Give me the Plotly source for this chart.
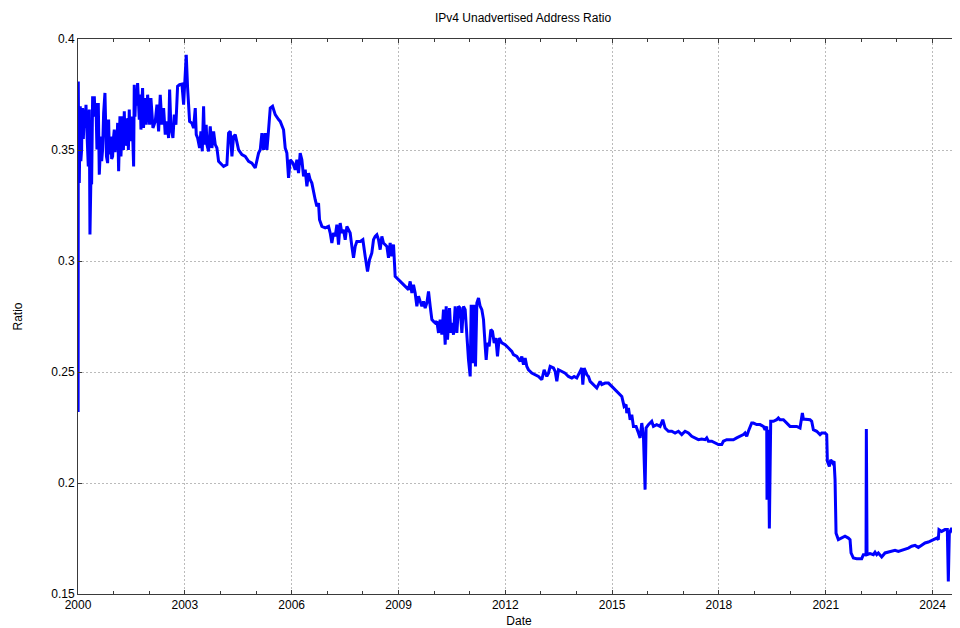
import plotly.graph_objects as go

# Decimal-year positions and ratio values
years = [
    2000.000, 2000.004, 2000.008, 2000.020, 2000.036, 2000.050, 2000.064, 2000.080, 2000.102, 2000.115,
    2000.130, 2000.150, 2000.177, 2000.200, 2000.224, 2000.252, 2000.289, 2000.305, 2000.317, 2000.336,
    2000.360, 2000.383, 2000.411, 2000.435, 2000.458, 2000.480, 2000.504, 2000.532, 2000.550, 2000.570,
    2000.598, 2000.620, 2000.645, 2000.665, 2000.691, 2000.720, 2000.757, 2000.785, 2000.800, 2000.832,
    2000.860, 2000.880, 2000.897, 2000.925, 2000.945, 2000.972, 2001.000, 2001.019, 2001.040, 2001.066,
    2001.090, 2001.113, 2001.141, 2001.160, 2001.178, 2001.206, 2001.230, 2001.253, 2001.275, 2001.300,
    2001.325, 2001.346, 2001.370, 2001.393, 2001.415, 2001.440, 2001.460, 2001.487, 2001.510, 2001.534,
    2001.562, 2001.580, 2001.600, 2001.627, 2001.650, 2001.674, 2001.700, 2001.721, 2001.745, 2001.768,
    2001.790, 2001.814, 2001.840, 2001.889, 2001.917, 2001.955, 2002.011, 2002.048, 2002.105, 2002.170,
    2002.217, 2002.264, 2002.310, 2002.357, 2002.404, 2002.451, 2002.498, 2002.544, 2002.573, 2002.610,
    2002.666, 2002.704, 2002.750, 2002.797, 2002.853, 2002.919, 2002.966, 2002.994, 2003.040, 2003.078,
    2003.106, 2003.134, 2003.199, 2003.246, 2003.293, 2003.321, 2003.359, 2003.415, 2003.452, 2003.490,
    2003.527, 2003.555, 2003.600, 2003.621, 2003.667, 2003.714, 2003.761, 2003.808, 2003.855, 2003.901,
    2003.948, 2003.995,
    2004.089, 2004.182, 2004.229, 2004.276, 2004.323, 2004.369, 2004.416, 2004.510, 2004.603, 2004.697,
    2004.791, 2004.884, 2004.978, 2005.071, 2005.118, 2005.165, 2005.212, 2005.258, 2005.305, 2005.352,
    2005.399, 2005.464, 2005.539, 2005.633,
    2005.679, 2005.773, 2005.819, 2005.866, 2005.913, 2005.960, 2006.035, 2006.100, 2006.147, 2006.194,
    2006.240, 2006.287, 2006.334, 2006.381, 2006.428, 2006.474, 2006.521, 2006.568, 2006.615, 2006.662,
    2006.708, 2006.755, 2006.783, 2006.849, 2006.942, 2007.036, 2007.083, 2007.129, 2007.176, 2007.223,
    2007.270, 2007.317, 2007.363, 2007.410, 2007.457, 2007.504, 2007.551, 2007.644, 2007.691, 2007.738,
    2007.785, 2007.831, 2007.925, 2008.000, 2008.065, 2008.131, 2008.187, 2008.252, 2008.299, 2008.346,
    2008.393, 2008.440, 2008.486, 2008.533, 2008.580, 2008.674, 2008.720, 2008.767, 2008.814, 2008.861,
    2008.907, 2009.001, 2009.095, 2009.188, 2009.282, 2009.329, 2009.376, 2009.422, 2009.469, 2009.516,
    2009.563,
    2009.610, 2009.657, 2009.704, 2009.750, 2009.797, 2009.844, 2009.891, 2009.938, 2009.984, 2010.031,
    2010.078, 2010.125, 2010.171, 2010.218, 2010.265, 2010.312, 2010.340, 2010.377, 2010.434, 2010.471,
    2010.499, 2010.546, 2010.593, 2010.639, 2010.686, 2010.733, 2010.780, 2010.827, 2010.873, 2010.920,
    2010.967, 2011.014, 2011.042, 2011.089, 2011.126, 2011.163, 2011.201, 2011.248, 2011.294, 2011.341,
    2011.388, 2011.435, 2011.463, 2011.500, 2011.547, 2011.594, 2011.641, 2011.688, 2011.734, 2011.781,
    2011.828, 2011.903, 2011.996, 2012.090, 2012.183, 2012.230, 2012.324, 2012.417, 2012.464, 2012.511,
    2012.558, 2012.605, 2012.651, 2012.745, 2012.839, 2012.932, 2013.026, 2013.091, 2013.166, 2013.213,
    2013.260, 2013.353, 2013.400, 2013.447, 2013.494, 2013.587, 2013.681, 2013.774, 2013.868, 2013.933,
    2014.008, 2014.102, 2014.149, 2014.177, 2014.214, 2014.289, 2014.336, 2014.383, 2014.476, 2014.570,
    2014.663, 2014.710, 2014.804, 2014.897, 2014.991, 2015.084, 2015.178, 2015.272, 2015.337, 2015.393,
    2015.412, 2015.459, 2015.506, 2015.552, 2015.599, 2015.674, 2015.740, 2015.786, 2015.833, 2015.880,
    2015.926, 2015.954, 2016.019, 2016.113, 2016.160, 2016.253, 2016.347, 2016.422, 2016.487, 2016.581,
    2016.675, 2016.768, 2016.862, 2016.955, 2017.049, 2017.142, 2017.236, 2017.330, 2017.423, 2017.517,
    2017.610, 2017.657, 2017.704, 2017.798, 2017.891, 2017.985, 2018.078, 2018.125, 2018.219, 2018.312,
    2018.406, 2018.499, 2018.593, 2018.687, 2018.733, 2018.780, 2018.827, 2018.920, 2018.967, 2019.061,
    2019.154, 2019.248, 2019.295, 2019.342, 2019.350, 2019.388, 2019.416, 2019.454, 2019.529, 2019.622,
    2019.669, 2019.716, 2019.810, 2019.856, 2019.903, 2019.950, 2019.997, 2020.090, 2020.184, 2020.277,
    2020.305, 2020.343, 2020.371, 2020.465, 2020.558, 2020.605, 2020.652, 2020.745, 2020.839,
    2020.886, 2020.980, 2021.027, 2021.045, 2021.101, 2021.139, 2021.195, 2021.233, 2021.261, 2021.289,
    2021.354, 2021.448, 2021.541, 2021.635, 2021.682, 2021.710, 2021.775, 2021.869, 2022.009, 2022.056,
    2022.131, 2022.140, 2022.159, 2022.243, 2022.337, 2022.384, 2022.430, 2022.477, 2022.524, 2022.571,
    2022.664, 2022.758, 2022.851, 2022.945, 2023.039, 2023.132, 2023.226, 2023.319, 2023.413, 2023.506,
    2023.600, 2023.694, 2023.787, 2023.881, 2023.974, 2024.068, 2024.115, 2024.161, 2024.180, 2024.255,
    2024.348, 2024.414, 2024.442, 2024.470, 2024.536, 2024.583, 2024.630, 2024.676, 2024.723, 2024.770,
]

ratio = [
    0.3620, 0.2320, 0.3809, 0.3500, 0.3351, 0.3650, 0.3697, 0.3450, 0.3502, 0.3680,
    0.3689, 0.3550, 0.3682, 0.3600, 0.3704, 0.3577, 0.3426, 0.3650, 0.3682, 0.3119,
    0.3350, 0.3351, 0.3742, 0.3700, 0.3742, 0.3650, 0.3712, 0.3502, 0.3680, 0.3712,
    0.3389, 0.3500, 0.3561, 0.3450, 0.3502, 0.3667, 0.3757, 0.3561, 0.3470, 0.3441,
    0.3637, 0.3480, 0.3502, 0.3561, 0.3460, 0.3471, 0.3560, 0.3592, 0.3490, 0.3584,
    0.3500, 0.3622, 0.3404, 0.3560, 0.3652, 0.3471, 0.3600, 0.3652, 0.3500, 0.3674,
    0.3520, 0.3531, 0.3640, 0.3637, 0.3500, 0.3682, 0.3540, 0.3592, 0.3650, 0.3577,
    0.3426, 0.3794, 0.3650, 0.3772, 0.3700, 0.3802, 0.3680, 0.3637, 0.3750, 0.3592,
    0.3700, 0.3779, 0.3600, 0.3734, 0.3614, 0.3749, 0.3614, 0.3734, 0.3599, 0.3629,
    0.3704, 0.3584, 0.3749, 0.3614, 0.3689, 0.3569, 0.3629, 0.3554, 0.3772, 0.3599,
    0.3554, 0.3659, 0.3614, 0.3787, 0.3794, 0.3797, 0.3704, 0.3809, 0.3929, 0.3779,
    0.3704, 0.3629, 0.3621, 0.3599, 0.3689, 0.3569, 0.3554, 0.3509, 0.3584, 0.3494,
    0.3697, 0.3524, 0.3614, 0.3524, 0.3494, 0.3606, 0.3509, 0.3584, 0.3524, 0.3509,
    0.3449, 0.3441,
    0.3426, 0.3434, 0.3576, 0.3584, 0.3471, 0.3561, 0.3569, 0.3501, 0.3479, 0.3471,
    0.3449, 0.3441, 0.3419, 0.3486, 0.3501, 0.3576, 0.3501, 0.3576, 0.3501, 0.3591,
    0.3689, 0.3697, 0.3659, 0.3637,
    0.3629, 0.3591, 0.3509, 0.3486, 0.3374, 0.3456, 0.3441, 0.3411, 0.3456, 0.3396,
    0.3486, 0.3456, 0.3381, 0.3411, 0.3336, 0.3396, 0.3366, 0.3351, 0.3306, 0.3276,
    0.3246, 0.3261, 0.3186, 0.3156, 0.3149, 0.3156, 0.3126, 0.3081, 0.3126, 0.3111,
    0.3164, 0.3074, 0.3171, 0.3126, 0.3141, 0.3096, 0.3156, 0.3126, 0.3066, 0.3014,
    0.3066, 0.3088, 0.3088, 0.3096, 0.3021, 0.2953, 0.3006, 0.3036, 0.3096, 0.3111,
    0.3118, 0.3096, 0.3051, 0.3111, 0.3081, 0.3066, 0.3014, 0.3081, 0.3021, 0.3074,
    0.2931, 0.2916, 0.2901, 0.2886, 0.2871, 0.2908, 0.2856, 0.2893, 0.2856, 0.2796,
    0.2841,
    0.2818, 0.2796, 0.2818, 0.2788, 0.2811, 0.2863, 0.2796, 0.2736, 0.2728, 0.2721,
    0.2728, 0.2676, 0.2736, 0.2668, 0.2781, 0.2623, 0.2796, 0.2646, 0.2788, 0.2676,
    0.2721, 0.2668, 0.2796, 0.2676, 0.2796, 0.2788, 0.2676, 0.2796, 0.2781, 0.2661,
    0.2555, 0.2480, 0.2803, 0.2540, 0.2803, 0.2525, 0.2811, 0.2833, 0.2796, 0.2781,
    0.2736, 0.2616, 0.2555, 0.2631, 0.2616, 0.2691, 0.2683, 0.2631, 0.2653, 0.2570,
    0.2653, 0.2631, 0.2623, 0.2608, 0.2593, 0.2578, 0.2570, 0.2548, 0.2570, 0.2533,
    0.2563, 0.2525, 0.2510, 0.2495, 0.2488, 0.2480, 0.2465, 0.2510, 0.2480, 0.2495,
    0.2525, 0.2518, 0.2503, 0.2458, 0.2510, 0.2503, 0.2495, 0.2480, 0.2473, 0.2480,
    0.2473, 0.2503, 0.2518, 0.2443, 0.2518, 0.2488, 0.2480, 0.2458, 0.2443, 0.2428,
    0.2458, 0.2443, 0.2450, 0.2450, 0.2435, 0.2420, 0.2405, 0.2390, 0.2345, 0.2353,
    0.2315, 0.2338, 0.2285, 0.2308, 0.2255, 0.2255, 0.2225, 0.2203, 0.2270, 0.2210,
    0.1970, 0.2248, 0.2263, 0.2278, 0.2255, 0.2263, 0.2255, 0.2285, 0.2248, 0.2233,
    0.2233, 0.2225, 0.2233, 0.2218, 0.2233, 0.2225, 0.2210, 0.2203, 0.2195, 0.2198,
    0.2195, 0.2203, 0.2188, 0.2188, 0.2180, 0.2173, 0.2173, 0.2188, 0.2195, 0.2195,
    0.2195, 0.2203, 0.2210, 0.2218, 0.2225, 0.2210, 0.2233, 0.2270, 0.2270, 0.2263,
    0.2263, 0.2255, 0.2240, 0.2255, 0.1925, 0.2240, 0.1795, 0.2278, 0.2278, 0.2285,
    0.2293, 0.2285, 0.2285, 0.2278, 0.2270, 0.2263, 0.2255, 0.2255, 0.2255, 0.2248,
    0.2285, 0.2315, 0.2288, 0.2285, 0.2285, 0.2278, 0.2240, 0.2233, 0.2218,
    0.2225, 0.2225, 0.2218, 0.2098, 0.2075, 0.2105, 0.2090, 0.2098, 0.2015, 0.1774,
    0.1745, 0.1752, 0.1760, 0.1752, 0.1745, 0.1685, 0.1662, 0.1659, 0.1659, 0.1677,
    0.1677, 0.2243, 0.1677, 0.1682, 0.1677, 0.1688, 0.1677, 0.1685, 0.1677, 0.1667,
    0.1685, 0.1688, 0.1692, 0.1697, 0.1692, 0.1697, 0.1700, 0.1707, 0.1715, 0.1719,
    0.1710, 0.1722, 0.1730, 0.1734, 0.1740, 0.1747, 0.1752, 0.1745, 0.1790, 0.1782,
    0.1790, 0.1790, 0.1557, 0.1774, 0.1797, 0.1774, 0.1767, 0.1774, 0.1782, 0.1797,
]

x_tick_vals = [2000, 2003, 2006, 2009, 2012, 2015, 2018, 2021, 2024]
x_tick_text = ["2000", "2003", "2006", "2009", "2012", "2015", "2018", "2021", "2024"]
y_tick_vals = [0.15, 0.2, 0.25, 0.3, 0.35, 0.4]
y_tick_text = ["0.15", "0.2", "0.25", "0.3", "0.35", "0.4"]

FONT = "Liberation Sans, Arial, sans-serif"
AXIS_COLOR = "#3a3a3a"
GRID_COLOR = "#bbbbbb"

fig = go.Figure()
fig.add_trace(go.Scatter(
    x=years, y=ratio, mode="lines",
    line=dict(color="#0000ff", width=3),
    showlegend=False,
))

# The page body has an 8px margin, so the figure is 8px smaller than the window
fig.update_layout(
    width=952, height=620,
    paper_bgcolor="white", plot_bgcolor="white",
    margin=dict(l=70, r=0, t=31, b=34),
    font=dict(family=FONT, size=12, color="black"),
    title=dict(text="IPv4 Unadvertised Address Ratio", x=0.541, xanchor="center",
               y=0.984, yanchor="middle", font=dict(size=12, color="black")),
)

fig.update_xaxes(
    range=[2000, 2024.77],
    tickvals=x_tick_vals, ticktext=x_tick_text,
    ticks="inside", ticklen=4, tickcolor=AXIS_COLOR,
    showline=True, linecolor=AXIS_COLOR, linewidth=1, mirror="ticks",
    showgrid=True, gridcolor=GRID_COLOR, griddash="2px,2px", gridwidth=1,
    minor=dict(dtick=1, tick0=2000, ticks="inside", ticklen=3, tickcolor=AXIS_COLOR, showgrid=False),
    zeroline=False,
    tickfont=dict(size=12, color="black"),
    title=dict(text="Date", font=dict(size=12, color="black"), standoff=14),
    automargin=False,
)

fig.update_yaxes(
    range=[0.15, 0.4],
    tickvals=y_tick_vals, ticktext=y_tick_text,
    ticks="inside", ticklen=4, tickcolor=AXIS_COLOR,
    showline=True, linecolor=AXIS_COLOR, linewidth=1, mirror=False,
    showgrid=True, gridcolor=GRID_COLOR, griddash="2px,2px", gridwidth=1,
    zeroline=False,
    tickfont=dict(size=12, color="black"),
    title=dict(text="Ratio", font=dict(size=12, color="black"), standoff=26),
    automargin=False,
)

fig.write_html("out.html")
